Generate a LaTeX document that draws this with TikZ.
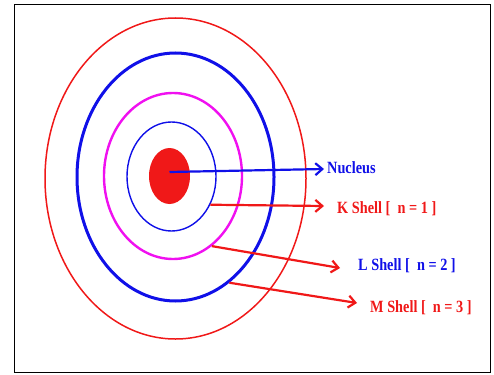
\documentclass[tikz,border=0pt]{standalone}
\usepackage{fontspec}
\setmainfont{Liberation Serif}
\usetikzlibrary{arrows.meta,shapes.geometric}
\definecolor{shellred}{HTML}{F01818}
\definecolor{shellblue}{HTML}{1010E8}
\definecolor{shellpink}{HTML}{F010F0}
\begin{document}
\begin{tikzpicture}[x=1pt,y=-1pt,
  shell/.style={ellipse,draw,inner sep=0pt},
  lbl/.style={anchor=west,inner sep=1pt,font=\fontsize{14.3}{15}\selectfont\bfseries},
  a/.style={-{Straight Barb[length=7pt,width=12pt]},line width=2.2pt}]
\useasboundingbox (0,0) rectangle (494,374);
\draw[line width=1.6pt] (14.5,4.5) rectangle (490.5,372.5);
% shells from the outside in
\node[shell,draw=shellred,line width=1.5pt,minimum width=261pt,minimum height=321pt] (mouter) at (175.5,178.5) {};
\node[shell,draw=shellblue,line width=3pt,minimum width=197pt,minimum height=248pt] (mshell) at (175.5,177) {};
\node[shell,draw=shellpink,line width=2.4pt,minimum width=138pt,minimum height=166pt] (lshell) at (173,176) {};
\node[shell,draw=shellblue,line width=1.4pt,minimum width=89pt,minimum height=109pt] (kshell) at (171.5,176.5) {};
\node[shell,draw=none,fill=shellred,minimum width=41pt,minimum height=56pt] (nucleus) at (169.5,176) {};
% labels
\node[lbl,text=shellblue] (nuclbl) at (326,168) {\scalebox{1}[1.2]{Nucleus}};
\node[lbl,text=shellred] (klbl) at (336,209) {\scalebox{1}[1.2]{K Shell [\ \ n = 1 ]}};
\node[lbl,text=shellblue] (llbl) at (357,266) {\scalebox{1}[1.2]{L Shell [\ \ n = 2 ]}};
\node[lbl,text=shellred] (mlbl) at (369,308) {\scalebox{1}[1.2]{M Shell [\ \ n = 3 ]}};
\coordinate (nucend) at (324,169);
\coordinate (kend) at (324,206);
\coordinate (lend) at (340,268);
\coordinate (mend) at (357,303);
% arrows
\draw[a,shellblue] ([yshift=4pt]nucleus.center) -- (nucend);
\draw[a,shellred] (kshell.-36) -- (kend);
\draw[a,shellred] (lshell.-61.5) -- (lend);
\draw[a,shellred] (mshell.-63) -- (mend);
\end{tikzpicture}
\end{document}
